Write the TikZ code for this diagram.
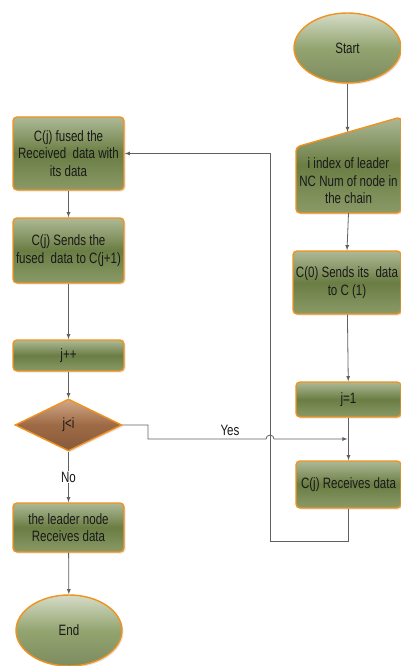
\documentclass[tikz,border=0pt]{standalone}
\usepackage{fontspec}
\setmainfont{Liberation Sans}[FakeStretch=0.77]
\usetikzlibrary{shapes}
\usetikzlibrary{shapes.geometric}
\usetikzlibrary{shadows}
\definecolor{fc-orange}{HTML}{F0921E}
\definecolor{fc-olive}{HTML}{6A7D43}
\definecolor{fc-olive-light}{HTML}{AEB996}
\definecolor{fc-olive-low}{HTML}{8A9A68}
\definecolor{fc-sage}{HTML}{93A470}
\definecolor{fc-sage-light}{HTML}{D5DCC7}
\definecolor{fc-brown}{HTML}{9E6A45}
\definecolor{fc-brown-light}{HTML}{D2A888}
\definecolor{fc-line}{HTML}{606060}

\begin{document}
\begin{tikzpicture}[x=1pt, y=-1pt, font=\fontsize{15}{17.5}\selectfont,
  box fill/.style={draw=fc-orange, line width=1.4pt, top color=fc-olive-light,
    bottom color=fc-olive-low, middle color=fc-olive,
    drop shadow={shadow xshift=1.5pt, shadow yshift=-1.5pt, opacity=0.2}},
  process/.style={box fill, rectangle, rounded corners=4pt, align=center,
    inner sep=1pt, text=black!90},
  terminal/.style={ellipse, draw=fc-orange, line width=1.4pt, inner sep=0pt,
    top color=fc-sage-light, bottom color=fc-sage!85!black, middle color=fc-sage,
    drop shadow={shadow xshift=1.5pt, shadow yshift=-1.5pt, opacity=0.2},
    text=black!90},
  decision/.style={diamond, draw=fc-orange, line width=1.4pt, inner sep=0pt,
    minimum width=107pt, minimum height=52pt,
    top color=fc-brown-light, bottom color=fc-brown!85!black, middle color=fc-brown,
    drop shadow={shadow xshift=1.5pt, shadow yshift=-1.5pt, opacity=0.2},
    text=black!90},
  text only/.style={inner sep=2pt, align=center, text=black!90},
  flow/.style={draw=fc-line, line width=0.8pt, -latex}]
\useasboundingbox (0,0) rectangle (401,666);

% right column
\node[terminal, minimum width=107pt, minimum height=70pt]
  (start)
  at (347.5, 48)
  {Start};
\path[box fill, rounded corners=4pt]
  (296,213) -- (296,147) -- (401,117) -- (401,213) -- cycle;
\node[text only, minimum height=64pt]
  (input)
  at (348.5, 181)
  {i index of leader\\NC Num of node in\\the chain};
\coordinate (input-top) at (347.5, 132);
\node[process, minimum width=108pt, minimum height=63pt]
  (send0)
  at (347, 282.5)
  {C(0) Sends its\ \ data\\to C (1)};
\node[process, minimum width=105pt, minimum height=35pt]
  (jone)
  at (348.5, 399.5)
  {j=1};
\node[process, minimum width=105pt, minimum height=47pt]
  (recv)
  at (348.5, 484.5)
  {C(j) Receives data};

% left column
\node[process, minimum width=111pt, minimum height=73pt]
  (fused)
  at (68.5, 153.5)
  {C(j) fused the\\Received\ \ data with\\its data};
\node[process, minimum width=111pt, minimum height=65pt]
  (sendj)
  at (68.5, 250.5)
  {C(j) Sends the\\fused\ \ data to C(j+1)};
\node[process, minimum width=111pt, minimum height=31pt]
  (jinc)
  at (68.5, 355.5)
  {j++};
\node[decision]
  (test)
  at (68.5, 425)
  {j<i};
\node[process, minimum width=111pt, minimum height=49pt]
  (leader)
  at (68.5, 527.5)
  {the leader node\\Receives data};
\node[terminal, minimum width=106pt, minimum height=71pt]
  (end)
  at (69, 630.5)
  {End};

\coordinate (yes-turn) at (148, 439);
\coordinate (jump) at (266, 439);
\coordinate (merge) at (348.5, 439);
\coordinate (loop) at (270, 541);
\node[text only] (yes) at (230, 430) {Yes};

\draw[flow] (start.south) -- (input-top);
\draw[flow] (input.south) -- (send0.north);
\draw[flow] (send0) -- (jone);
\draw[flow] (jone) -- (recv);
\draw[flow, shorten >=1pt] (test.east) -| (yes-turn) -- (jump)
  arc[start angle=180, end angle=0, radius=4pt] -- (merge);
\draw[flow] (recv.south) |- (loop) |- (fused.east);
\draw[flow] (fused) -- (sendj);
\draw[flow] (sendj) -- (jinc);
\draw[flow] (jinc) -- (test);
\draw[flow] (test) -- node[text only, fill=white, inner sep=1pt] (no) {No} (leader);
\draw[flow] (leader) -- (end);
\end{tikzpicture}
\end{document}
